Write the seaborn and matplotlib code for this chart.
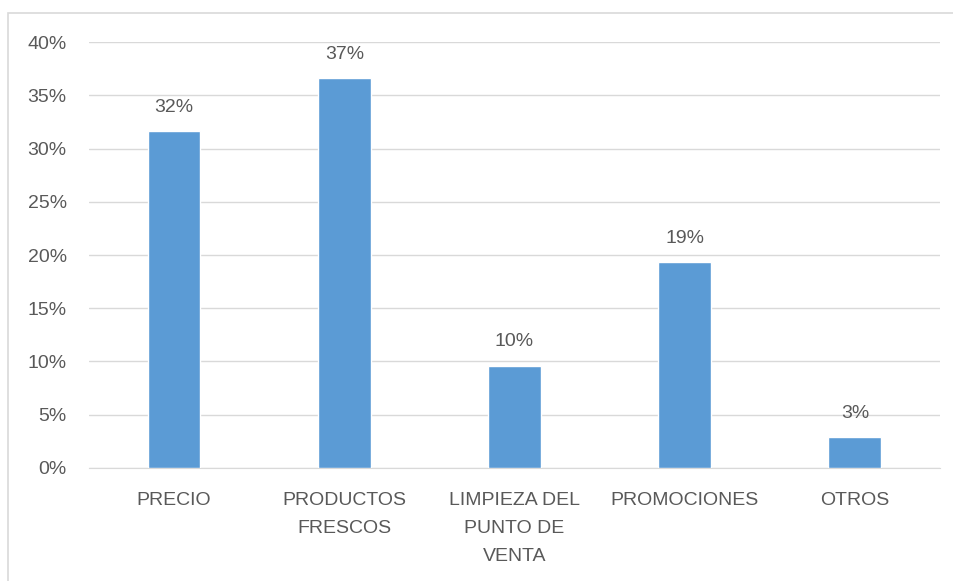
import matplotlib
matplotlib.use('Agg')
import matplotlib.pyplot as plt
import seaborn as sns
from matplotlib.patches import Rectangle
from matplotlib.ticker import PercentFormatter

# Datos del gráfico
categorias = ['PRECIO', 'PRODUCTOS\nFRESCOS', 'LIMPIEZA DEL\nPUNTO DE\nVENTA', 'PROMOCIONES', 'OTROS']
valores = [0.316, 0.366, 0.096, 0.193, 0.029]
etiquetas = ['32%', '37%', '10%', '19%', '3%']

sns.set_style('white')
plt.rcParams['font.family'] = ['Liberation Sans', 'DejaVu Sans']

gris_texto = '#595959'
fig = plt.figure(figsize=(9.54, 5.81), dpi=100)
ax = fig.add_axes([0.0933, 0.1945, 0.892, 0.7332])

sns.barplot(x=categorias, y=valores, color='#5B9BD5', width=0.31, saturation=1, ax=ax, zorder=3)
ax.bar_label(ax.containers[0], labels=etiquetas, padding=11, fontsize=14, color=gris_texto)

ax.set_ylim(0, 0.40)
ax.set_yticks([i * 0.05 for i in range(9)])
ax.yaxis.set_major_formatter(PercentFormatter(1.0, decimals=0))
ax.set_xlim(-0.5, 4.5)
ax.grid(axis='y', color='#D9D9D9', linewidth=1, zorder=0)
ax.set_xlabel('')
ax.set_ylabel('')
for lado in ['top', 'right', 'left']:
    ax.spines[lado].set_visible(False)
ax.spines['bottom'].set_color('#D9D9D9')
ax.tick_params(axis='y', length=0, pad=16, labelsize=14, labelcolor=gris_texto)
ax.tick_params(axis='x', length=0, pad=17, labelsize=14, labelcolor=gris_texto)
for t in ax.get_xticklabels():
    t.set_linespacing(1.85)

# Marco exterior del gráfico
fig.patches.append(Rectangle((8 / 954, -0.1), 1.2, 1 - 13 / 581 + 0.1, transform=fig.transFigure,
                             fill=False, edgecolor='#D9D9D9', linewidth=1.2))

fig.savefig('out.png', dpi=100)
